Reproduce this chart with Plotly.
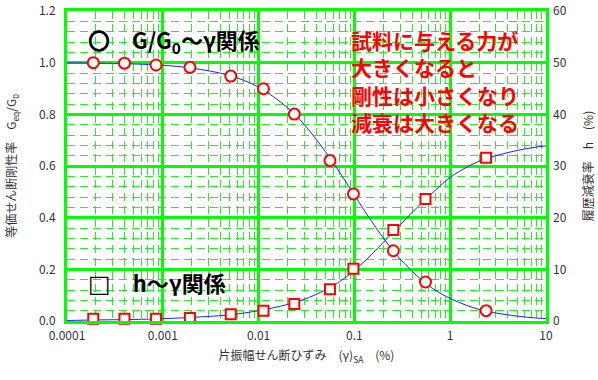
import plotly.graph_objects as go

strain = [0.000188, 0.000398, 0.00085, 0.00192, 0.00512, 0.01125, 0.0236,
          0.0556, 0.0977, 0.255, 0.552, 2.37]
g_ratio = [1.000, 0.998, 0.991, 0.982, 0.948, 0.899, 0.801,
           0.621, 0.492, 0.272, 0.151, 0.040]
damping = [0.45, 0.45, 0.45, 0.58, 1.30, 1.99, 3.29,
           6.14, 10.12, 17.61, 23.61, 31.61]

# Fitted curves
curve_x = [0.0001, 0.0002, 0.0005, 0.001, 0.002, 0.005, 0.01, 0.02, 0.03, 0.05,
           0.07, 0.1, 0.15, 0.2, 0.3, 0.5, 0.7, 1, 1.5, 2, 3, 5, 7, 10]
curve_g = [0.999, 0.998, 0.995, 0.990, 0.979, 0.950, 0.905, 0.826, 0.760, 0.655,
           0.576, 0.487, 0.388, 0.322, 0.240, 0.160, 0.119, 0.087, 0.060, 0.045,
           0.031, 0.019, 0.013, 0.0094]
curve_h = [0.1, 0.2, 0.3, 0.45, 0.7, 1.2, 2.0, 3.2, 4.2, 6.0,
           7.6, 9.8, 12.8, 15.2, 18.6, 22.8, 25.3, 27.8, 29.8, 30.9,
           32.0, 33.0, 33.5, 33.9]

x_tickvals = [0.0001, 0.001, 0.01, 0.1, 1, 10]
x_ticktext = ["0.0001", "0.001", "0.01", "0.1", "1", "10"]
y_left_ticks = [0.0, 0.2, 0.4, 0.6, 0.8, 1.0, 1.2]
y_right_ticks = [0, 10, 20, 30, 40, 50, 60]

GREEN = "#00FF00"
MINOR = "#2AEA2A"
FONT = "Noto Sans CJK JP"

minor_x = [m * 10 ** e for e in range(-4, 1) for m in range(2, 10)]

fig = go.Figure()
fig.add_trace(go.Scatter(x=curve_x, y=curve_g, mode="lines", line=dict(color="#1F1FFF", width=1),
                         line_shape="spline", showlegend=False, hoverinfo="skip"))
fig.add_trace(go.Scatter(x=curve_x, y=curve_h, mode="lines", line=dict(color="#1F1FFF", width=1),
                         line_shape="spline", yaxis="y2", showlegend=False, hoverinfo="skip"))
fig.add_trace(go.Scatter(x=strain, y=g_ratio, mode="markers",
                         marker=dict(symbol="circle", size=11, color="white",
                                     line=dict(color="#FF0000", width=2)),
                         showlegend=False, cliponaxis=False))
fig.add_trace(go.Scatter(x=strain, y=damping, mode="markers", yaxis="y2",
                         marker=dict(symbol="square", size=10, color="white",
                                     line=dict(color="#FF0000", width=2)),
                         showlegend=False, cliponaxis=False))

fig.update_layout(
    template="none",
    width=598, height=380,
    margin=dict(l=67, r=52, t=11, b=59, autoexpand=False),
    paper_bgcolor="white", plot_bgcolor="white",
    font=dict(family=FONT, size=12, color="#333333"),
    xaxis=dict(type="log", range=[-4, 1], tickvals=x_tickvals, ticktext=x_ticktext,
               automargin=False,
               showgrid=True, gridcolor=GREEN, gridwidth=3,
               showline=True, mirror=True, linecolor=GREEN, linewidth=3,
               ticks="", zeroline=False, ticklabelstandoff=2,
               minor=dict(tickmode="array", tickvals=minor_x, showgrid=True,
                          gridcolor=MINOR, gridwidth=1, griddash="8px,5px", ticks=""),
               title=dict(text="片振幅せん断ひずみ　(γ)<sub>SA</sub>　(%)",
                          font=dict(size=12, color="#333333"), standoff=10),
               tickfont=dict(size=12)),
    yaxis=dict(range=[0, 1.2], tickvals=y_left_ticks, tickformat=".1f",
               automargin=False,
               showgrid=True, gridcolor=GREEN, gridwidth=3,
               showline=True, mirror=True, linecolor=GREEN, linewidth=3,
               ticks="", zeroline=False, ticklabelstandoff=6,
               minor=dict(dtick=0.04, showgrid=True, gridcolor=MINOR, gridwidth=1,
                          griddash="8px,5px", ticks=""),
               title=dict(text="等価せん断剛性率　G<sub>eq</sub>/G<sub>0</sub>",
                          font=dict(size=12, color="#333333"), standoff=20),
               tickfont=dict(size=12)),
    yaxis2=dict(range=[0, 60], tickvals=y_right_ticks, overlaying="y", side="right",
                automargin=False,
                showgrid=False, zeroline=False, ticks="", showline=False,
                ticklabelstandoff=6,
                title=dict(text="履歴減衰率　h　(%)", font=dict(size=12, color="#333333"),
                           standoff=18),
                tickfont=dict(size=12)),
    annotations=[
        dict(text="<b>〇　G/G<sub>0</sub>～γ関係</b>",
             x=0.04, y=0.905, xref="paper", yref="paper",
             xanchor="left", yanchor="middle", showarrow=False,
             font=dict(family=FONT, size=22, color="black")),
        dict(text="<b><span style='font-family:DejaVu Sans;font-size:24px'>□</span>　h～γ関係</b>",
             x=0.04, y=0.125, xref="paper", yref="paper",
             xanchor="left", yanchor="middle", showarrow=False,
             font=dict(family=FONT, size=22, color="black")),
        dict(text="<b>試料に与える力が<br>大きくなると<br>剛性は小さくなり<br>減衰は大きくなる</b>",
             x=0.588, y=0.96, xref="paper", yref="paper", xanchor="left", yanchor="top",
             align="left", showarrow=False,
             font=dict(family=FONT, size=21, color="#FF0000")),
    ],
)

fig.write_html("out.html", config={"displayModeBar": False},
               post_script="document.body.style.margin='0';document.body.style.padding='0';")
